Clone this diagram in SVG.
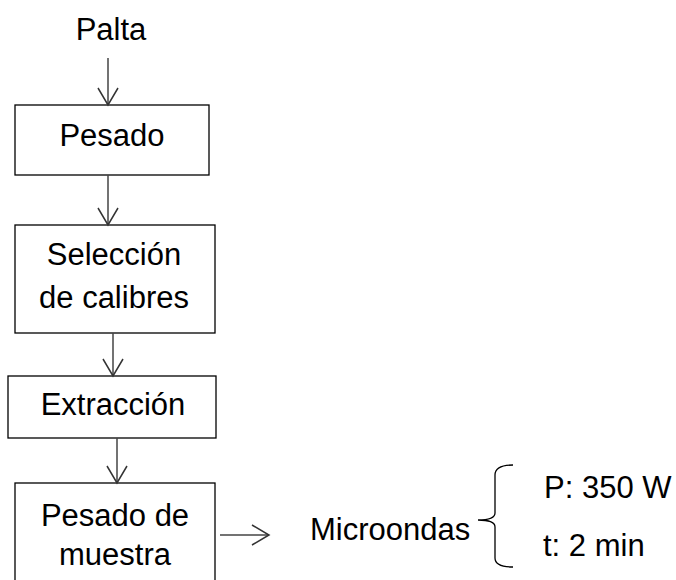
<svg xmlns="http://www.w3.org/2000/svg" width="676" height="580" viewBox="0 0 676 580">
<style>
.box{fill:#fff;stroke:#000;stroke-width:1.3}
.t{font-family:"Liberation Sans",Arial,sans-serif;font-size:31px;fill:#000}
.c{text-anchor:middle}
.ln{stroke:#444;stroke-width:1.5;fill:none}
.br{stroke:#000;stroke-width:1.3;fill:none}
</style>
<defs>
<marker id="ah" markerUnits="userSpaceOnUse" viewBox="-19 -12 21 24" refX="0" refY="0" markerWidth="21" markerHeight="24" orient="auto">
<path d="M-17,-10 L0,0 L-17,10" fill="none" stroke="#333" stroke-width="1.5"/>
</marker>
</defs>
<g id="palta"><text class="t c" x="111" y="40">Palta</text></g>
<g id="pesado"><rect class="box" x="15" y="105" width="194" height="70"/><text class="t c" x="112" y="146">Pesado</text></g>
<g id="seleccion"><rect class="box" x="15" y="225" width="200" height="108"/><text class="t c" x="114" y="265">Selección</text><text class="t c" x="114" y="308">de calibres</text></g>
<g id="extraccion"><rect class="box" x="8" y="376" width="208" height="62"/><text class="t c" x="113" y="415">Extracción</text></g>
<g id="pesado-muestra"><rect class="box" x="15" y="483" width="200" height="130"/><text class="t c" x="115" y="526">Pesado de</text><text class="t c" x="115" y="565">muestra</text></g>
<g id="microondas"><text class="t" x="310" y="540">Microondas</text>
<path class="br" d="M513,465 Q495,465 495,475 L495,513 Q495,520 478,520 Q495,520 495,527 L495,558 Q495,567 513,567"/>
<text class="t" x="544" y="498">P: 350 W</text><text class="t" x="543" y="556">t: 2 min</text></g>
<g id="connectors">
<line class="ln" x1="108" y1="58" x2="108" y2="105" marker-end="url(#ah)"/>
<line class="ln" x1="108" y1="175" x2="108" y2="225" marker-end="url(#ah)"/>
<line class="ln" x1="113" y1="333" x2="113" y2="376" marker-end="url(#ah)"/>
<line class="ln" x1="117" y1="438" x2="117" y2="483" marker-end="url(#ah)"/>
<line class="ln" x1="220" y1="535" x2="269" y2="535" marker-end="url(#ah)"/>
</g>
</svg>
